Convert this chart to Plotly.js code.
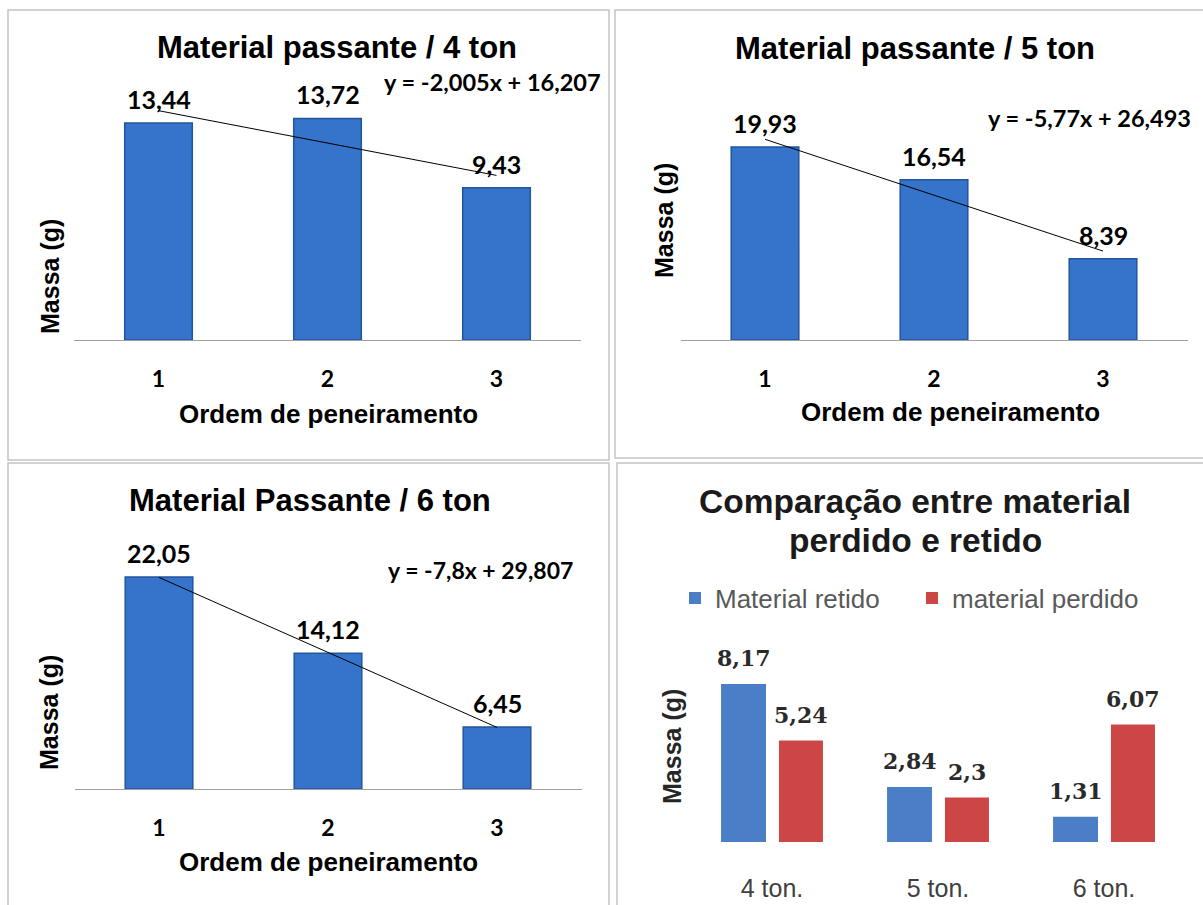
<!DOCTYPE html>
<html><head><meta charset="utf-8">
<script src="https://cdn.plot.ly/plotly-3.0.1.min.js"></script>
<style>html,body{margin:0;padding:0;background:#fff}#chart{width:1203px;height:905px}</style>
</head><body><div id="chart"></div>
<script>
// ---- data ----
const ordem = ['1', '2', '3'];
const massa4 = [13.44, 13.72, 9.43];
const massa5 = [19.93, 16.54, 8.39];
const massa6 = [22.05, 14.12, 6.45];
const trendSlope = [-2.005, -5.77, -7.8];
const trendIntercept = [16.207, 26.493, 29.807];
const panelTitles = ['Material passante / 4 ton', 'Material passante / 5 ton', 'Material Passante / 6 ton'];
const tons = ['4 ton.', '5 ton.', '6 ton.'];
const retido = [8.17, 2.84, 1.31];
const perdido = [5.24, 2.3, 6.07];
const seriesNames = ['Material retido', 'material perdido'];
const compTitle = ['Comparação entre material', 'perdido e retido'];
const xTitle = 'Ordem de peneiramento';
const yTitle = 'Massa (g)';

// ---- helpers ----
const W = 1203, H = 905;
const px = v => v / W;
const py = v => 1 - v / H;
const fmt = v => String(v).replace('.', ',');

const BOLD = 'Liberation Sans, Arial, sans-serif';
const CAL = 'Lato, Carlito, Calibri, sans-serif';

const panels = [
  {vals: massa4, xa: 'x', ya: 'y', xd: [74, 581], yd: [70, 340], ymax: 16.72,
   title: [337, 47], eq: [492, 82], eqSize: 23.5, xt: [328, 414], yt: [50, 277]},
  {vals: massa5, xa: 'x2', ya: 'y2', xd: [680.5, 1187.5], yd: [70, 340], ymax: 27.88,
   title: [915, 49], eq: [1089, 118], eqSize: 23.5, xt: [951, 412], yt: [664, 221]},
  {vals: massa6, xa: 'x3', ya: 'y3', xd: [74.5, 581.5], yd: [530, 789], ymax: 26.94,
   title: [310, 500], eq: [480, 570], eqSize: 23, xt: [328, 862], yt: [49, 713]}
];

const data = [];
const annotations = [];
const layout = {
  width: W, height: H, autosize: false,
  margin: {l: 0, r: 0, t: 0, b: 0},
  paper_bgcolor: '#ffffff', plot_bgcolor: 'rgba(0,0,0,0)',
  barmode: 'overlay',
  showlegend: true,
  legend: {orientation: 'h', x: px(675), y: py(598), xanchor: 'left', yanchor: 'middle',
           font: {family: 'Liberation Sans, Arial, sans-serif', size: 26, color: '#595959'},
           bgcolor: 'rgba(0,0,0,0)', entrywidth: 192, traceorder: 'normal'},
  annotations: annotations,
  shapes: [
    {type: 'rect', xref: 'paper', yref: 'paper', x0: px(8), x1: px(609), y0: py(10), y1: py(460), line: {color: '#c4c4c4', width: 1.5}},
    {type: 'rect', xref: 'paper', yref: 'paper', x0: px(615), x1: px(1210), y0: py(10), y1: py(458), line: {color: '#c4c4c4', width: 1.5}},
    {type: 'rect', xref: 'paper', yref: 'paper', x0: px(8), x1: px(609), y0: py(463), y1: py(912), line: {color: '#c4c4c4', width: 1.5}},
    {type: 'rect', xref: 'paper', yref: 'paper', x0: px(617), x1: px(1210), y0: py(463), y1: py(912), line: {color: '#c4c4c4', width: 1.5}}
  ]
};

panels.forEach((p, i) => {
  const n = i === 0 ? '' : String(i + 1);
  data.push({
    type: 'bar', x: ordem, y: p.vals, xaxis: p.xa, yaxis: p.ya, width: 0.40,
    marker: {color: '#3673ca', line: {color: '#23549c', width: 1.5}},
    showlegend: false, hoverinfo: 'skip'
  });
  data.push({
    type: 'scatter', mode: 'lines', xaxis: p.xa, yaxis: p.ya,
    x: [ordem[0], ordem[2]],
    y: [trendSlope[i] * 1 + trendIntercept[i], trendSlope[i] * 3 + trendIntercept[i]],
    line: {color: '#000000', width: 1}, showlegend: false, hoverinfo: 'skip'
  });
  layout['xaxis' + n] = {
    domain: [px(p.xd[0]), px(p.xd[1])], anchor: 'y' + n, type: 'category',
    range: [-0.5, 2.5], showline: true, linecolor: '#a0a0a0', linewidth: 1,
    showgrid: false, zeroline: false, ticks: 'outside', ticklen: 18, tickcolor: 'rgba(0,0,0,0)',
    tickfont: {family: CAL, size: 23, weight: 700, color: '#000'}
  };
  layout['yaxis' + n] = {
    domain: [py(p.yd[1]), py(p.yd[0])], anchor: 'x' + n, range: [0, p.ymax], visible: false
  };
  p.vals.forEach((v, k) => annotations.push({
    xref: p.xa, yref: p.ya, x: k, y: v, yshift: 24, yanchor: 'middle', xanchor: 'center',
    text: fmt(v), showarrow: false, font: {family: CAL, size: 25, weight: 700, color: '#000'}
  }));
  annotations.push({xref: 'paper', yref: 'paper', x: px(p.title[0]), y: py(p.title[1]),
    text: panelTitles[i], showarrow: false, xanchor: 'center', yanchor: 'middle',
    font: {family: BOLD, size: 31, weight: 700, color: '#000'}});
  annotations.push({xref: 'paper', yref: 'paper', x: px(p.eq[0]), y: py(p.eq[1]),
    text: 'y = ' + fmt(trendSlope[i]) + 'x + ' + fmt(trendIntercept[i]), showarrow: false,
    xanchor: 'center', yanchor: 'middle', font: {family: CAL, size: p.eqSize, weight: 700, color: '#000'}});
  annotations.push({xref: 'paper', yref: 'paper', x: px(p.xt[0]), y: py(p.xt[1]),
    text: xTitle, showarrow: false, xanchor: 'center', yanchor: 'middle',
    font: {family: BOLD, size: 26, weight: 700, color: '#000'}});
  annotations.push({xref: 'paper', yref: 'paper', x: px(p.yt[0]), y: py(p.yt[1]),
    text: yTitle, showarrow: false, textangle: -90, xanchor: 'center', yanchor: 'middle',
    font: {family: BOLD, size: 25, weight: 700, color: '#000'}});
});

// ---- panel 4 ----
const bw = [0.271, 0.265];
const boff = [-0.307, 0.042];
const cols = ['#4a7ec6', '#cc4646'];
[retido, perdido].forEach((vals, s) => {
  data.push({
    type: 'bar', name: seriesNames[s], x: tons, y: vals, xaxis: 'x4', yaxis: 'y4',
    width: bw[s], offset: boff[s], marker: {color: cols[s], line: {width: 0}}, hoverinfo: 'skip'
  });
  vals.forEach((v, k) => annotations.push({
    xref: 'x4', yref: 'y4', x: k + boff[s] + bw[s] / 2, y: v, yshift: 26, yanchor: 'middle', xanchor: 'center',
    text: fmt(v), showarrow: false, font: {family: 'DejaVu Serif, serif', size: 22, weight: 700, color: '#2a2a2a'}
  }));
});
layout.xaxis4 = {
  domain: [px(689), px(1187)], anchor: 'y4', type: 'category', range: [-0.5, 2.5],
  showline: false, showgrid: false, zeroline: false, ticks: 'outside', ticklen: 24, tickcolor: 'rgba(0,0,0,0)',
  tickfont: {family: 'Liberation Sans, Arial, sans-serif', size: 25, color: '#404040'}
};
layout.yaxis4 = {domain: [py(842), py(640)], anchor: 'x4', range: [0, 10.44], visible: false};
annotations.push({xref: 'paper', yref: 'paper', x: px(915), y: py(502), text: compTitle[0], showarrow: false,
  xanchor: 'center', yanchor: 'middle', font: {family: BOLD, size: 33.5, weight: 700, color: '#1a1a1a'}});
annotations.push({xref: 'paper', yref: 'paper', x: px(916), y: py(540), text: compTitle[1], showarrow: false,
  xanchor: 'center', yanchor: 'middle', font: {family: BOLD, size: 33.5, weight: 700, color: '#1a1a1a'}});
annotations.push({xref: 'paper', yref: 'paper', x: px(672), y: py(747), text: yTitle, showarrow: false,
  textangle: -90, xanchor: 'center', yanchor: 'middle', font: {family: BOLD, size: 25, weight: 700, color: '#262626'}});

Plotly.newPlot('chart', data, layout, {displayModeBar: false, staticPlot: true});
</script>
</body></html>
